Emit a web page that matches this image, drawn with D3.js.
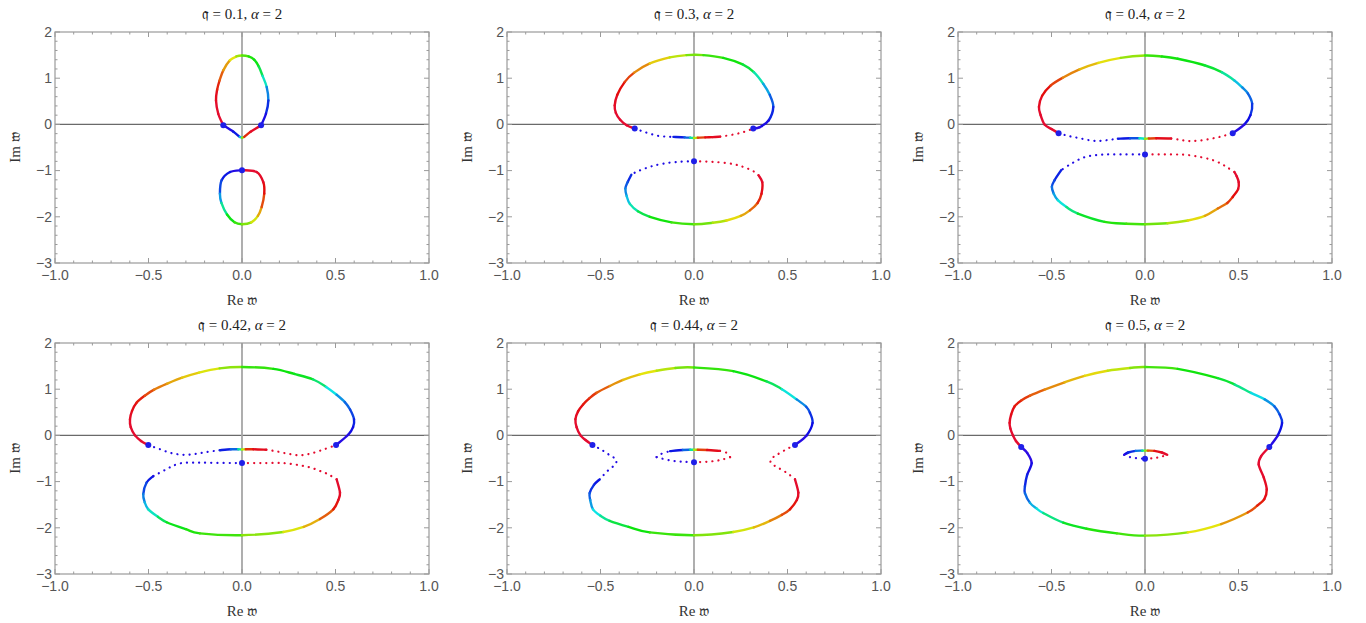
<!DOCTYPE html>
<html>
<head>
<meta charset="utf-8">
<script src="https://cdn.jsdelivr.net/npm/d3@7"></script>
<style>
  body { margin: 0; background: #fff; }
  svg { display: block; }
</style>
</head>
<body>
<svg id="chart" width="1366" height="623"></svg>
<script>
// each point: [Re w, Im w, hue in degrees]
// q = 0.1
var q01Upper = [[-0.100,-0.02,-10],[-0.127,0.23,-10],[-0.139,0.52,-8],[-0.133,0.75,-2],[-0.120,0.95,15],[-0.100,1.17,30],[-0.064,1.39,50],[-0.030,1.47,70],[0.000,1.49,90],[0.035,1.47,110],[0.065,1.40,120],[0.090,1.25,125],[0.110,1.05,150],[0.132,0.81,190],[0.141,0.52,222],[0.128,0.23,238],[0.102,-0.02,250]];
var q01Vee = [[-0.100,-0.02,250],[-0.046,-0.16,242],[-0.012,-0.27,230],[0.000,-0.29,150],[0.012,-0.27,20],[0.046,-0.16,-5],[0.102,-0.02,-10]];
var q01Lower = [[0.000,-0.99,250],[-0.064,-1.03,242],[-0.109,-1.21,232],[-0.118,-1.50,215],[-0.110,-1.70,185],[-0.080,-1.95,130],[-0.040,-2.12,115],[0.000,-2.16,100],[0.050,-2.12,75],[0.085,-1.98,55],[0.105,-1.79,30],[0.119,-1.50,5],[0.114,-1.25,-5],[0.078,-1.03,-10],[0.000,-0.99,-10]];
var q01Marks = [[-0.100,-0.02],[0.102,-0.02],[0,-0.99]];

// q = 0.3
var q03Upper = [[-0.317,-0.09,-10],[-0.360,-0.02,-10],[-0.395,0.10,-10],[-0.418,0.25,-10],[-0.424,0.41,-8],[-0.410,0.64,-5],[-0.370,0.92,5],[-0.320,1.12,25],[-0.236,1.32,45],[-0.130,1.45,62],[-0.040,1.50,80],[0.050,1.50,100],[0.156,1.44,115],[0.260,1.30,122],[0.320,1.13,145],[0.370,0.88,185],[0.405,0.64,210],[0.424,0.38,225],[0.400,0.09,240],[0.352,-0.06,248],[0.317,-0.09,250]];
var q03MidL = [[-0.317,-0.09,250],[-0.260,-0.17,248],[-0.201,-0.24,245],[-0.150,-0.265,242],[-0.110,-0.27,240]];
var q03Mid = [[-0.110,-0.27,240],[-0.050,-0.28,230],[-0.020,-0.29,200],[0.000,-0.295,120],[0.020,-0.29,30],[0.060,-0.28,0],[0.100,-0.275,-5],[0.140,-0.265,-8]];
var q03MidR = [[0.140,-0.265,-8],[0.210,-0.22,-10],[0.270,-0.16,-10],[0.317,-0.09,-10]];
var q03LowL = [[0,-0.80,250],[-0.080,-0.81,250],[-0.166,-0.85,248],[-0.230,-0.91,245],[-0.272,-0.97,242],[-0.310,-1.03,240],[-0.335,-1.09,238]];
var q03Lower = [[-0.335,-1.09,238],[-0.355,-1.25,225],[-0.367,-1.39,212],[-0.360,-1.55,198],[-0.343,-1.72,182],[-0.300,-1.88,150],[-0.236,-2.00,125],[-0.120,-2.12,112],[0,-2.16,100],[0.100,-2.13,85],[0.174,-2.08,65],[0.250,-1.98,50],[0.299,-1.86,35],[0.340,-1.70,15],[0.361,-1.50,0],[0.365,-1.25,-8],[0.345,-1.10,-10]];
var q03LowR = [[0.345,-1.10,-10],[0.320,-1.02,-10],[0.270,-0.93,-10],[0.210,-0.86,-10],[0.100,-0.81,-10],[0,-0.80,-10]];
var q03Marks = [[-0.317,-0.09],[0.317,-0.09],[0,-0.80]];

// q = 0.4
var q04Upper = [[-0.462,-0.19,-10],[-0.500,-0.10,-10],[-0.537,0.00,-10],[-0.558,0.20,-10],[-0.567,0.38,-8],[-0.550,0.62,-4],[-0.505,0.84,5],[-0.440,1.01,25],[-0.350,1.19,42],[-0.250,1.33,54],[-0.130,1.44,64],[0.000,1.49,100],[0.090,1.47,115],[0.175,1.42,120],[0.318,1.28,123],[0.410,1.13,140],[0.478,0.95,180],[0.520,0.80,200],[0.550,0.67,210],[0.573,0.45,222],[0.564,0.20,235],[0.532,0.00,245],[0.469,-0.19,250]];
var q04MidL = [[-0.462,-0.19,250],[-0.410,-0.25,250],[-0.359,-0.29,248],[-0.300,-0.34,246],[-0.252,-0.36,244],[-0.200,-0.34,242],[-0.145,-0.31,240]];
var q04Mid = [[-0.145,-0.31,240],[-0.080,-0.30,232],[-0.030,-0.30,210],[0.000,-0.31,130],[0.020,-0.305,30],[0.060,-0.30,0],[0.140,-0.305,-8]];
var q04MidR = [[0.140,-0.305,-8],[0.190,-0.335,-10],[0.235,-0.36,-10],[0.290,-0.35,-10],[0.353,-0.31,-10],[0.410,-0.26,-10],[0.469,-0.19,-10]];
var q04LowL = [[0,-0.65,250],[-0.128,-0.65,250],[-0.234,-0.655,248],[-0.323,-0.71,245],[-0.394,-0.85,242],[-0.448,-0.99,240]];
var q04Lower = [[-0.448,-0.99,240],[-0.484,-1.21,228],[-0.498,-1.35,218],[-0.488,-1.50,205],[-0.466,-1.64,190],[-0.420,-1.79,165],[-0.359,-1.93,138],[-0.216,-2.11,118],[-0.100,-2.15,110],[0.000,-2.16,100],[0.120,-2.14,85],[0.229,-2.08,65],[0.320,-1.98,50],[0.389,-1.82,35],[0.440,-1.70,20],[0.469,-1.57,5],[0.498,-1.40,-5],[0.501,-1.25,-8],[0.490,-1.12,-10],[0.478,-1.03,-10]];
var q04LowR = [[0.478,-1.03,-10],[0.440,-0.93,-10],[0.407,-0.85,-10],[0.360,-0.77,-10],[0.300,-0.71,-10],[0.220,-0.66,-10],[0.140,-0.65,-10],[0,-0.65,-10]];
var q04Marks = [[-0.462,-0.19],[0.469,-0.19],[0,-0.65]];

// q = 0.42
var q042Upper = [[-0.501,-0.21,-10],[-0.540,-0.12,-10],[-0.572,0.00,-10],[-0.595,0.18,-10],[-0.599,0.35,-8],[-0.588,0.53,-5],[-0.563,0.71,0],[-0.520,0.86,10],[-0.470,0.99,25],[-0.400,1.12,38],[-0.320,1.25,48],[-0.230,1.36,57],[-0.120,1.45,68],[0.000,1.48,100],[0.168,1.44,118],[0.280,1.33,122],[0.381,1.21,130],[0.450,1.05,165],[0.506,0.88,195],[0.550,0.72,210],[0.578,0.56,220],[0.599,0.35,230],[0.594,0.18,238],[0.569,0.02,245],[0.503,-0.21,250]];
var q042MidL = [[-0.501,-0.21,250],[-0.438,-0.30,250],[-0.380,-0.38,248],[-0.314,-0.42,246],[-0.250,-0.40,244],[-0.189,-0.36,242],[-0.120,-0.32,240]];
var q042Mid = [[-0.120,-0.32,240],[-0.060,-0.30,230],[-0.020,-0.30,200],[0.000,-0.305,120],[0.020,-0.30,20],[0.060,-0.30,0],[0.130,-0.31,-8]];
var q042MidR = [[0.130,-0.31,-8],[0.190,-0.35,-10],[0.250,-0.40,-10],[0.310,-0.43,-10],[0.370,-0.39,-10],[0.440,-0.30,-10],[0.503,-0.21,-10]];
var q042LowL = [[0,-0.60,250],[-0.135,-0.595,250],[-0.242,-0.59,248],[-0.323,-0.60,246],[-0.370,-0.66,244],[-0.403,-0.73,242],[-0.474,-0.88,240]];
var q042Lower = [[-0.474,-0.88,240],[-0.510,-1.02,232],[-0.528,-1.27,215],[-0.520,-1.45,200],[-0.501,-1.60,185],[-0.450,-1.76,155],[-0.403,-1.88,130],[-0.300,-2.03,118],[-0.225,-2.12,112],[0.000,-2.16,100],[0.221,-2.09,70],[0.330,-1.98,55],[0.417,-1.81,35],[0.488,-1.60,10],[0.515,-1.40,-5],[0.524,-1.24,-8],[0.506,-0.95,-10]];
var q042LowR = [[0.506,-0.95,-10],[0.460,-0.84,-10],[0.417,-0.77,-10],[0.370,-0.70,-10],[0.328,-0.66,-10],[0.221,-0.60,-10],[0.100,-0.60,-10],[0,-0.60,-10]];
var q042Marks = [[-0.501,-0.21],[0.503,-0.21],[0,-0.60]];

// q = 0.44
var q044Upper = [[-0.543,-0.21,-10],[-0.580,-0.10,-10],[-0.607,0.00,-10],[-0.628,0.18,-10],[-0.634,0.35,-8],[-0.620,0.52,-5],[-0.593,0.67,0],[-0.560,0.80,8],[-0.522,0.92,15],[-0.450,1.07,30],[-0.379,1.20,45],[-0.290,1.32,55],[-0.200,1.40,65],[-0.100,1.46,80],[0.000,1.47,100],[0.210,1.39,118],[0.388,1.17,125],[0.470,1.00,160],[0.549,0.78,195],[0.600,0.62,215],[0.620,0.49,225],[0.634,0.27,235],[0.602,0.00,245],[0.540,-0.21,250]];
var q044SideL = [[-0.543,-0.21,250],[-0.495,-0.31,250],[-0.450,-0.43,248],[-0.415,-0.53,246],[-0.420,-0.62,244],[-0.460,-0.76,242],[-0.504,-0.95,240]];
var q044Lower = [[-0.504,-0.95,240],[-0.535,-1.07,235],[-0.558,-1.25,225],[-0.555,-1.40,210],[-0.540,-1.60,190],[-0.500,-1.74,170],[-0.451,-1.85,145],[-0.350,-1.98,125],[-0.236,-2.10,115],[0.000,-2.16,100],[0.210,-2.09,75],[0.320,-1.99,55],[0.406,-1.85,40],[0.470,-1.72,25],[0.513,-1.60,10],[0.550,-1.40,-5],[0.558,-1.24,-8],[0.540,-0.95,-10]];
var q044SideR = [[0.540,-0.95,-10],[0.500,-0.82,-10],[0.450,-0.70,-10],[0.412,-0.60,-10],[0.410,-0.52,-10],[0.440,-0.43,-10],[0.490,-0.31,-10],[0.540,-0.21,-10]];
var q044InL = [[-0.200,-0.47,250],[-0.180,-0.41,248],[-0.128,-0.34,245]];
var q044InTop = [[-0.128,-0.34,245],[-0.060,-0.315,230],[-0.020,-0.31,200],[0.000,-0.31,120],[0.020,-0.31,30],[0.070,-0.315,0],[0.139,-0.335,-8]];
var q044InR = [[0.139,-0.335,-8],[0.175,-0.38,-10],[0.193,-0.47,-10]];
var q044InBotL = [[-0.200,-0.47,250],[-0.130,-0.54,250],[-0.060,-0.57,250],[0.000,-0.58,250]];
var q044InBotR = [[0.000,-0.58,-10],[0.070,-0.57,-10],[0.140,-0.535,-10],[0.193,-0.47,-10]];
var q044Marks = [[-0.543,-0.21],[0.540,-0.21],[0,-0.58]];

// q = 0.5
var q05Upper = [[-0.662,-0.25,-10],[-0.690,-0.12,-10],[-0.706,0.00,-10],[-0.720,0.15,-10],[-0.724,0.27,-8],[-0.716,0.45,-5],[-0.697,0.63,0],[-0.660,0.76,8],[-0.615,0.86,18],[-0.537,0.99,28],[-0.430,1.15,42],[-0.323,1.29,52],[-0.200,1.40,62],[-0.080,1.46,78],[0.000,1.48,95],[0.175,1.44,115],[0.389,1.24,122],[0.480,1.10,140],[0.567,0.92,170],[0.640,0.78,195],[0.692,0.63,210],[0.720,0.45,222],[0.733,0.27,232],[0.710,0.00,245],[0.665,-0.25,250]];
var q05Lower = [[-0.662,-0.25,250],[-0.630,-0.38,250],[-0.606,-0.60,248],[-0.630,-0.85,238],[-0.642,-1.10,230],[-0.642,-1.25,222],[-0.615,-1.46,205],[-0.580,-1.58,185],[-0.544,-1.68,170],[-0.437,-1.89,135],[-0.312,-2.02,118],[-0.150,-2.12,110],[0.000,-2.17,100],[0.229,-2.10,70],[0.407,-1.92,50],[0.549,-1.67,28],[0.600,-1.52,10],[0.638,-1.38,0],[0.651,-1.17,-5],[0.635,-0.91,-8],[0.608,-0.63,-10],[0.621,-0.45,-10],[0.665,-0.25,-10]];
var q05InTop = [[-0.111,-0.42,245],[-0.090,-0.37,238],[-0.050,-0.335,225],[-0.015,-0.33,195],[0.000,-0.33,120],[0.015,-0.33,40],[0.050,-0.335,0],[0.090,-0.37,-8],[0.119,-0.42,-10]];
var q05InBotL = [[-0.111,-0.42,250],[-0.080,-0.47,250],[-0.040,-0.495,250],[0.000,-0.505,250]];
var q05InBotR = [[0.000,-0.505,-10],[0.040,-0.495,-10],[0.080,-0.47,-10],[0.119,-0.42,-10]];
var q05Marks = [[-0.662,-0.25],[0.665,-0.25],[0,-0.505]];

var qValues = ["0.1", "0.3", "0.4", "0.42", "0.44", "0.5"];
var xTickVals = [-1, -0.5, 0, 0.5, 1];
var yTickVals = [-3, -2, -1, 0, 1, 2];

var panels = [
	{q: qValues[0], solid: [q01Upper, q01Vee, q01Lower], dotted: [], marks: q01Marks},
	{q: qValues[1], solid: [q03Upper, q03Mid, q03Lower], dotted: [q03MidL, q03MidR, q03LowL, q03LowR], marks: q03Marks},
	{q: qValues[2], solid: [q04Upper, q04Mid, q04Lower], dotted: [q04MidL, q04MidR, q04LowL, q04LowR], marks: q04Marks},
	{q: qValues[3], solid: [q042Upper, q042Mid, q042Lower], dotted: [q042MidL, q042MidR, q042LowL, q042LowR], marks: q042Marks},
	{q: qValues[4], solid: [q044Upper, q044Lower, q044InTop], dotted: [q044SideL, q044SideR, q044InL, q044InR, q044InBotL, q044InBotR], marks: q044Marks},
	{q: qValues[5], solid: [q05Upper, q05Lower, q05InTop], dotted: [q05InBotL, q05InBotR], marks: q05Marks}
];

var colX = [55, 507, 958];
var rowY = [32, 343];
var pw = 374, ph = 231;

var svg = d3.select("#chart");
var hueColor = function (h) { return d3.hsl(h, 0.9, 0.47).formatHex(); };

// catmull-rom piece between point i and i+1, in pixels
var pieces = function (pts, sx, sy) {
	var p = pts.map(function (d) { return [sx(d[0]), sy(d[1])]; });
	var n = p.length, out = [];
	for (var i = 0; i < n - 1; i++) {
		var p0 = p[Math.max(i - 1, 0)], p1 = p[i], p2 = p[i + 1], p3 = p[Math.min(i + 2, n - 1)];
		var path = d3.path();
		path.moveTo(p1[0], p1[1]);
		path.bezierCurveTo(p1[0] + (p2[0] - p0[0]) / 6, p1[1] + (p2[1] - p0[1]) / 6,
			p2[0] - (p3[0] - p1[0]) / 6, p2[1] - (p3[1] - p1[1]) / 6, p2[0], p2[1]);
		out.push({d: path.toString(), hue: (pts[i][2] + pts[i + 1][2]) / 2});
	}
	return out;
};

panels.forEach(function (pn, k) {
	var x0 = colX[k % 3], y0 = rowY[Math.floor(k / 3)];
	var sx = d3.scaleLinear().domain([-1, 1]).range([x0, x0 + pw]);
	var sy = d3.scaleLinear().domain([-3, 2]).range([y0 + ph, y0]);
	var g = svg.append("g");

	var clipId = "clip" + k;
	svg.append("clipPath").attr("id", clipId)
		.append("rect").attr("x", x0).attr("y", y0).attr("width", pw).attr("height", ph);

	// axes through origin
	g.append("line").attr("x1", sx(-1)).attr("x2", sx(1)).attr("y1", sy(0)).attr("y2", sy(0))
		.attr("stroke", "#6a6a6a").attr("stroke-width", 1.2);
	g.append("line").attr("x1", sx(0)).attr("x2", sx(0)).attr("y1", sy(-3)).attr("y2", sy(2))
		.attr("stroke", "#a6a6a6").attr("stroke-width", 1.8);

	var marks = g.append("g").attr("clip-path", "url(#" + clipId + ")");

	pn.solid.forEach(function (br) {
		marks.selectAll(null).data(pieces(br, sx, sy)).enter().append("path")
			.attr("d", function (d) { return d.d; })
			.attr("fill", "none")
			.attr("stroke", function (d) { return hueColor(d.hue); })
			.attr("stroke-width", 2.4)
			.attr("stroke-linecap", "round");
	});

	pn.dotted.forEach(function (br) {
		var line = d3.line().x(function (d) { return sx(d[0]); }).y(function (d) { return sy(d[1]); })
			.curve(d3.curveCatmullRom);
		marks.append("path").attr("d", line(br))
			.attr("fill", "none")
			.attr("stroke", hueColor(d3.mean(br, function (d) { return d[2]; })))
			.attr("stroke-width", 2.2)
			.attr("stroke-linecap", "round")
			.attr("stroke-dasharray", "0.1 6");
	});

	marks.selectAll(null).data(pn.marks).enter().append("circle")
		.attr("cx", function (d) { return sx(d[0]); })
		.attr("cy", function (d) { return sy(d[1]); })
		.attr("r", 3)
		.attr("fill", "#1f1fe8");

	// frame + ticks
	g.append("rect").attr("x", x0).attr("y", y0).attr("width", pw).attr("height", ph)
		.attr("fill", "none").attr("stroke", "#9a9a9a").attr("stroke-width", 1.2);

	var tk = g.append("g").attr("stroke", "#9a9a9a").attr("stroke-width", 1);
	sx.ticks(20).forEach(function (t) {
		var len = xTickVals.indexOf(t) >= 0 ? 5 : 2.5;
		tk.append("line").attr("x1", sx(t)).attr("x2", sx(t)).attr("y1", y0 + ph).attr("y2", y0 + ph - len);
		tk.append("line").attr("x1", sx(t)).attr("x2", sx(t)).attr("y1", y0).attr("y2", y0 + len);
	});
	sy.ticks(25).forEach(function (t) {
		var len = yTickVals.indexOf(t) >= 0 ? 5 : 2.5;
		tk.append("line").attr("x1", x0).attr("x2", x0 + len).attr("y1", sy(t)).attr("y2", sy(t));
		tk.append("line").attr("x1", x0 + pw).attr("x2", x0 + pw - len).attr("y1", sy(t)).attr("y2", sy(t));
	});

	var fmtX = function (t) { return d3.format(".1f")(t).replace("-", "\u2212"); };
	g.selectAll(null).data(xTickVals).enter().append("text")
		.attr("x", function (d) { return sx(d); }).attr("y", y0 + ph + 17)
		.attr("text-anchor", "middle")
		.style("font", "14px 'Liberation Sans', Arial, sans-serif").attr("fill", "#555")
		.text(fmtX);
	g.selectAll(null).data(yTickVals).enter().append("text")
		.attr("x", x0 - 3).attr("y", function (d) { return sy(d); }).attr("dy", "0.34em")
		.attr("text-anchor", "end")
		.style("font", "14px 'Liberation Sans', Arial, sans-serif").attr("fill", "#555")
		.text(function (d) { return String(d).replace("-", "\u2212"); });

	// title and axis labels
	var title = g.append("text").attr("x", x0 + pw / 2).attr("y", y0 - 13)
		.attr("text-anchor", "middle")
		.style("font", "15px 'Liberation Serif', 'DejaVu Serif', serif").attr("fill", "#222");
	title.append("tspan").text("\u{1D52E} = " + pn.q + ", ");
	title.append("tspan").style("font-style", "italic").text("\u03B1");
	title.append("tspan").text(" = 2");

	g.append("text").attr("x", x0 + pw / 2).attr("y", y0 + ph + 42)
		.attr("text-anchor", "middle")
		.style("font", "15px 'Liberation Serif', 'DejaVu Serif', serif").attr("fill", "#333")
		.text("Re \u{1D534}");
	g.append("text")
		.attr("transform", "translate(" + (x0 - 35) + "," + (y0 + ph / 2) + ") rotate(-90)")
		.attr("text-anchor", "middle")
		.style("font", "15px 'Liberation Serif', 'DejaVu Serif', serif").attr("fill", "#333")
		.text("Im \u{1D534}");
});
</script>
</body>
</html>
